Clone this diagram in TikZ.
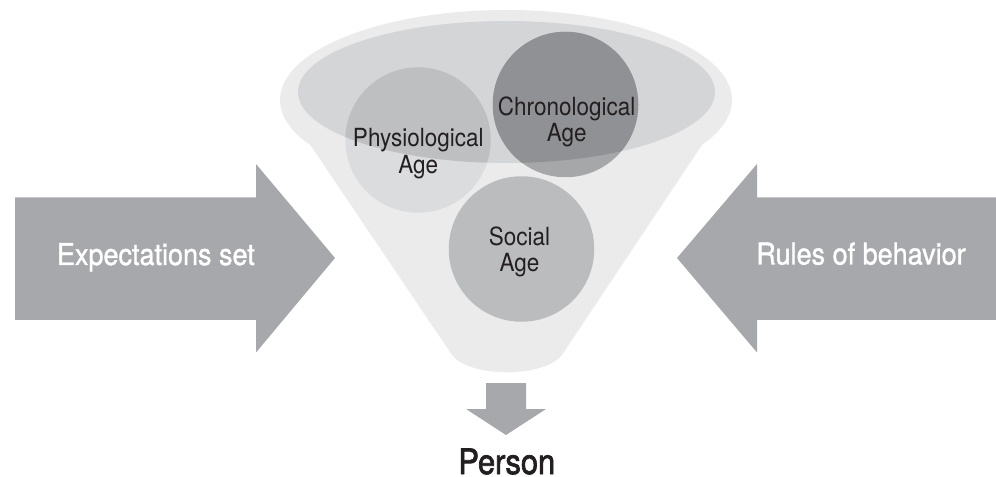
\documentclass[tikz,border=0pt]{standalone}
\usepackage{fontspec}
\setmainfont{TeX Gyre Heros}[FakeStretch=0.9]
\newfontfamily\medcond{TeX Gyre Heros}[FakeStretch=0.9, FakeBold=1.2]
\newfontfamily\boldcond{TeX Gyre Heros}[FakeStretch=0.88, FakeBold=2]
\definecolor{funnelout}{HTML}{EBEBEC}
\definecolor{funnelin}{HTML}{D4D5D7}
\definecolor{physout}{HTML}{DBDCDD}
\definecolor{physin}{HTML}{BEBFC1}
\definecolor{chronout}{HTML}{A6A7A9}
\definecolor{chronin}{HTML}{909194}
\definecolor{socialc}{HTML}{BBBCBE}
\definecolor{arrowc}{HTML}{A7A8AB}
\definecolor{darktext}{HTML}{231F20}
\tikzset{
  agecirc/.style={circle, draw=none, inner sep=0pt, minimum size=145.5bp},
  agelabel/.style={align=center, text=darktext, inner sep=0pt,
    font=\fontsize{25bp}{26.7bp}\selectfont},
  arrowlabel/.style={text=white, inner sep=0pt, anchor=base,
    font=\medcond\fontsize{30bp}{32bp}\selectfont},
  bigarrow/.style={fill=arrowc, draw=none}
}
\begin{document}
\begin{tikzpicture}[x=1bp,y=-1bp]
\useasboundingbox (0,0) rectangle (996,477);
% funnel
\fill[funnelout] (506,100) ellipse [x radius=226bp, y radius=90bp];
\fill[funnelout] (280,100) -- (452,355) .. controls (470,378) and (544,378) .. (562,355) -- (732,100) -- cycle;
\fill[funnelin] (506.5,92) ellipse [x radius=208.5bp, y radius=71bp];
% circles
\node[agecirc, fill=physout] (phys) at (418,140) {};
\node[agecirc, fill=chronout] (chron) at (565.5,104.5) {};
\node[agecirc, fill=socialc] (social) at (521.5,249) {};
\begin{scope}
  \clip (506.5,92) ellipse [x radius=208.5bp, y radius=71bp];
  \fill[physin] (phys.center) circle [radius=72.75bp];
  \fill[chronin] (chron.center) circle [radius=72.75bp];
\end{scope}
\node[agelabel] (physlbl) at (418.3,153.4) {Physiological\\Age};
\node[agelabel] (chronlbl) at (566.7,121.8) {Chronological\\Age};
\node[agelabel] (sociallbl) at (519.5,251.8) {Social\\Age};
% side arrows
\fill[bigarrow] (15,197.5) -- (256,197.5) -- (256,164) -- (335,258) -- (256,352.5) -- (256,320) -- (15,320) -- cycle;
\fill[bigarrow] (996,197.5) -- (757,197.5) -- (757,164) -- (677,258) -- (757,352.5) -- (757,320) -- (996,320) -- cycle;
\node[arrowlabel] (expect) at (155.9,265) {Expectations set};
\node[arrowlabel] (rules) at (861,264.5) {Rules of behavior};
% down arrow
\fill[bigarrow] (486,383) -- (526,383) -- (526,409) -- (546,409) -- (506,435) -- (466,409) -- (486,409) -- cycle;
\node[anchor=base, inner sep=0pt, text depth=0pt, text=darktext, font=\boldcond\fontsize{35bp}{37bp}\selectfont] (person) at (506.8,474) {Person};
\end{tikzpicture}
\end{document}
